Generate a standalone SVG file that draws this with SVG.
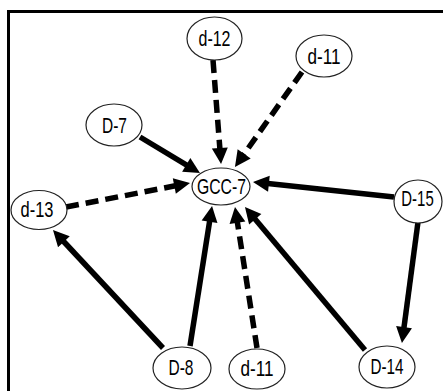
<svg xmlns="http://www.w3.org/2000/svg" width="443" height="391" viewBox="0 0 443 391">
<style>
.e{stroke:#000;stroke-width:5.5;fill:none}
.d{stroke-dasharray:13 7}
.n ellipse{fill:#fff;stroke:#222;stroke-width:1.2}
.n text{font-family:"Liberation Sans",Arial,sans-serif;font-size:22px;text-anchor:middle;fill:#000}
</style>
<defs>
<marker id="a" markerUnits="userSpaceOnUse" markerWidth="18" markerHeight="18" viewBox="0 -9 17 18" refX="1" refY="0" orient="auto">
<path d="M0,-8 L16,0 L0,8 z" fill="#000"/>
</marker>
</defs>
<rect x="8.5" y="11.5" width="450" height="400" fill="#fff" stroke="#000" stroke-width="3"/>
<g id="connectors">
<line class="e d" x1="213" y1="60" x2="219.9" y2="149" marker-end="url(#a)"/>
<line class="e d" x1="302" y1="72" x2="243.6" y2="154.7" marker-end="url(#a)"/>
<line class="e" x1="140" y1="137" x2="187.1" y2="165.3" marker-end="url(#a)"/>
<line class="e d" x1="66" y1="207" x2="175.3" y2="185.8" marker-end="url(#a)"/>
<line class="e" x1="394" y1="197" x2="267.9" y2="183.6" marker-end="url(#a)"/>
<line class="e" x1="418" y1="222" x2="403.9" y2="328.1" marker-end="url(#a)"/>
<line class="e" x1="163" y1="348" x2="63.2" y2="241" marker-end="url(#a)"/>
<line class="e" x1="190" y1="346" x2="209.7" y2="220.8" marker-end="url(#a)"/>
<line class="e d" x1="257" y1="348" x2="237.3" y2="221.8" marker-end="url(#a)"/>
<line class="e" x1="365" y1="350" x2="254.6" y2="218.5" marker-end="url(#a)"/>
</g>
<g id="d-12" class="n"><ellipse cx="214.5" cy="38.5" rx="27.5" ry="21.5"/><text x="214.5" y="46" textLength="32" lengthAdjust="spacingAndGlyphs">d-12</text></g>
<g id="d-11-top" class="n"><ellipse cx="324" cy="56" rx="28" ry="21"/><text x="324" y="63.5" textLength="33" lengthAdjust="spacingAndGlyphs">d-11</text></g>
<g id="D-7" class="n"><ellipse cx="114" cy="125" rx="28" ry="21"/><text x="114.5" y="132.5" textLength="25" lengthAdjust="spacingAndGlyphs">D-7</text></g>
<g id="GCC-7" class="n"><ellipse cx="221" cy="186.5" rx="29" ry="18.5"/><text x="221.5" y="194" textLength="49" lengthAdjust="spacingAndGlyphs">GCC-7</text></g>
<g id="d-13" class="n"><ellipse cx="39" cy="210" rx="28" ry="19.5"/><text x="37" y="217" textLength="33" lengthAdjust="spacingAndGlyphs">d-13</text></g>
<g id="D-15" class="n"><ellipse cx="418" cy="201.5" rx="24" ry="21.5"/><text transform="translate(417.5,206) scale(0.68,1)" x="0" y="0">D-15</text></g>
<g id="D-8" class="n"><ellipse cx="182" cy="368" rx="29" ry="21"/><text x="181" y="375" textLength="25" lengthAdjust="spacingAndGlyphs">D-8</text></g>
<g id="d-11-bottom" class="n"><ellipse cx="257" cy="369" rx="28" ry="20"/><text x="257" y="376" textLength="33" lengthAdjust="spacingAndGlyphs">d-11</text></g>
<g id="D-14" class="n"><ellipse cx="387" cy="367" rx="28" ry="21"/><text x="387" y="374" textLength="33" lengthAdjust="spacingAndGlyphs">D-14</text></g>
</svg>
